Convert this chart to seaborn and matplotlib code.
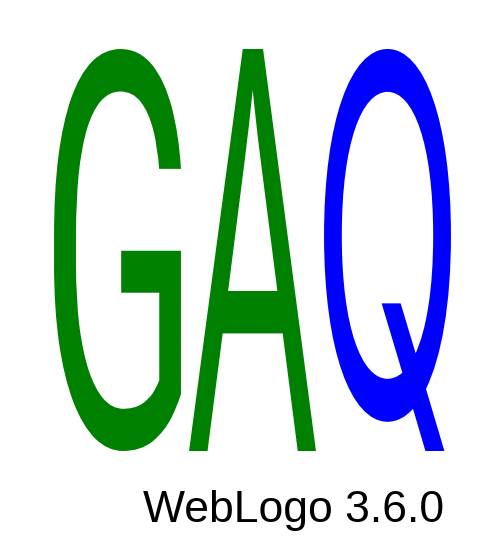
import numpy as np
import pandas as pd
import matplotlib
matplotlib.use("Agg")
import matplotlib.pyplot as plt
import seaborn as sns
from matplotlib.textpath import TextPath
from matplotlib.patches import PathPatch
from matplotlib.font_manager import FontProperties
from matplotlib.transforms import Affine2D

#%% logo data: one fully conserved residue per position (protein, max log2(20) bits)
letters = ['G', 'A', 'Q']
positions = [1, 2, 3]
bits = [4.32, 4.32, 4.32]
colors = ['#008000', '#008000', '#0000ff']
fineprint = 'WebLogo 3.6.0'

# glyph shapes closest to the Helvetica letters of the original
glyph_fonts = {'G': 'Roboto', 'A': 'Liberation Sans', 'Q': 'Inter'}

sns.set_style('white')
plt.rcParams['font.family'] = ['Liberation Sans', 'DejaVu Sans']

logo = pd.DataFrame({'letter': letters, 'pos': positions, 'bits': bits, 'color': colors})


def draw_letter(ax, ch, x, y0, h, color, width=0.94):
    # stretch the glyph so it fills its box in data coordinates
    fp = FontProperties(family=glyph_fonts.get(ch, 'Liberation Sans'))
    tp = TextPath((0, 0), ch, size=100, prop=fp)
    bb = tp.get_extents()
    tr = (Affine2D()
          .translate(-bb.x0, -bb.y0)
          .scale(width / bb.width, h / bb.height)
          .translate(x - width / 2, y0))
    ax.add_patch(PathPatch(tr.transform_path(tp), fc=color, ec='none', lw=0))


fig = plt.figure(figsize=(5, 5.5), dpi=100)
ax = fig.add_axes([0.1, 0.18, 0.81, 0.7309])

for _, row in logo.iterrows():
    draw_letter(ax, row['letter'], row['pos'], 0, row['bits'], row['color'])

ax.set_xlim(0.5, 3.5)
ax.set_ylim(0, max(bits))
ax.axis('off')

fig.text(444 / 500, 1 - 522 / 550, fineprint, ha='right', va='baseline',
         fontsize=32, color='black')

fig.savefig('out.png', dpi=100)
